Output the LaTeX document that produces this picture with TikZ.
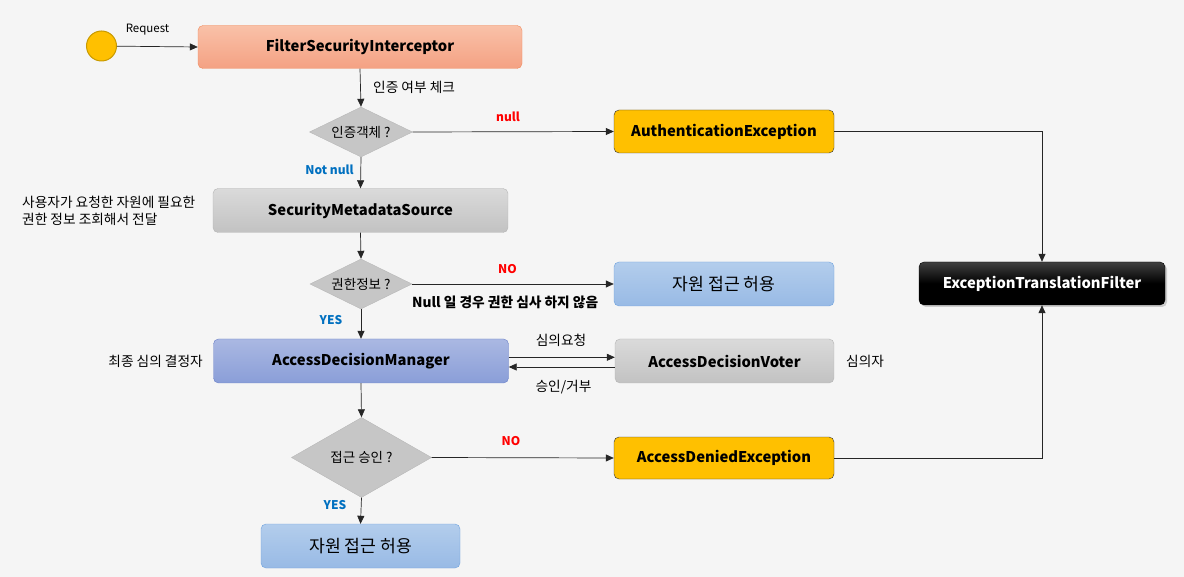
\documentclass[tikz,border=0pt]{standalone}
\usepackage{fontspec}
\setmainfont{Noto Sans CJK KR}
\usetikzlibrary{arrows.meta,shapes.geometric,shadows}
\definecolor{bg}{HTML}{F5F5F5}
\definecolor{gold}{HTML}{FFC000}
\definecolor{goldline}{HTML}{C89A00}
\definecolor{salmonT}{HTML}{F9C1A8}
\definecolor{salmonB}{HTML}{F4A183}
\definecolor{salmonL}{HTML}{F08A5C}
\definecolor{grayT}{HTML}{DADADA}
\definecolor{grayB}{HTML}{C2C2C2}
\definecolor{grayL}{HTML}{B5B5B5}
\definecolor{blueT}{HTML}{B3CDEC}
\definecolor{blueB}{HTML}{98BAE5}
\definecolor{blueL}{HTML}{6FA2DE}
\definecolor{admT}{HTML}{AAB8E2}
\definecolor{admB}{HTML}{8A9ED8}
\definecolor{admL}{HTML}{6A80C8}
\definecolor{diaF}{HTML}{C6C6C6}
\definecolor{diaL}{HTML}{B8B8B8}
\definecolor{noRed}{HTML}{FF0000}
\definecolor{yesBlue}{HTML}{0070C0}
\begin{document}
\begin{tikzpicture}[x=1pt,y=-1pt,
  box/.style={rounded corners=5pt, inner sep=0pt, font=\bfseries\fontsize{14.8}{17}\selectfont},
  salmonbox/.style={box, top color=salmonT, bottom color=salmonB, draw=salmonL},
  graybox/.style={box, top color=grayT, bottom color=grayB, draw=grayL},
  bluebox/.style={box, top color=blueT, bottom color=blueB, draw=blueL, font=\fontsize{17.2}{19}\selectfont},
  admbox/.style={box, top color=admT, bottom color=admB, draw=admL},
  goldbox/.style={box, fill=gold, draw=black!80},
  blackbox/.style={box, top color=black!75, bottom color=black, middle color=black, draw=black, text=white, drop shadow={opacity=0.35, shadow xshift=2pt, shadow yshift=-2pt}},
  dia/.style={diamond, fill=diaF, draw=diaL, inner sep=0pt, aspect=2, font=\fontsize{13.5}{15}\selectfont},
  arr/.style={-{Triangle[length=8pt,width=7pt]}, line width=0.7pt, black!85},
  lbl/.style={font=\fontsize{13.7}{16}\selectfont, inner sep=0pt},
  rlbl/.style={font=\bfseries\fontsize{12}{14}\selectfont, text=noRed, inner sep=0pt},
  blbl/.style={font=\bfseries\fontsize{12}{14}\selectfont, text=yesBlue, inner sep=0pt}
]
\fill[bg] (0,0) rectangle (1184,577);

% start
\node[circle, fill=gold, draw=goldline, line width=1pt, minimum size=30pt, inner sep=0pt] (start) at (101.5,46) {};
\node[lbl, font=\fontsize{11.5}{13}\selectfont] (req) at (147.5,30) {Request};

% boxes
\node[salmonbox, minimum width=324pt, minimum height=43pt] (fsi) at (360,47) {FilterSecurityInterceptor};
\node[dia, minimum width=103pt, minimum height=50pt] (d1) at (361,132) {인증객체 ?};
\node[goldbox, minimum width=220pt, minimum height=43pt] (authex) at (724,131.5) {AuthenticationException};
\node[graybox, minimum width=295pt, minimum height=44pt] (sms) at (360.5,210.5) {SecurityMetadataSource};
\node[dia, minimum width=102pt, minimum height=50pt] (d2) at (361,284) {권한정보 ?};
\node[bluebox, minimum width=220pt, minimum height=44pt] (allow1) at (724,284) {자원 접근 허용};
\node[admbox, minimum width=295pt, minimum height=44pt] (adm) at (361,361) {AccessDecisionManager};
\node[graybox, minimum width=219pt, minimum height=44pt] (adv) at (724.5,361) {AccessDecisionVoter};
\node[dia, minimum width=140pt, minimum height=80pt] (d3) at (361.5,457.5) {접근 승인 ?};
\node[goldbox, minimum width=220pt, minimum height=42pt] (adex) at (724,458) {AccessDeniedException};
\node[bluebox, minimum width=199pt, minimum height=44pt] (allow2) at (360.5,546) {자원 접근 허용};
\node[blackbox, minimum width=246pt, minimum height=43pt] (etf) at (1042,283.5) {ExceptionTranslationFilter};

% side labels
\node[lbl, anchor=west, align=left, font=\fontsize{13.7}{17}\selectfont] (smsnote) at (22,210.5) {사용자가 요청한 자원에 필요한\\권한 정보 조회해서 전달};
\node[lbl, anchor=east] (admnote) at (203,361) {최종 심의 결정자};
\node[lbl, anchor=west] (advnote) at (846,361) {심의자};

% connector labels
\node[lbl, anchor=west] (chk) at (373,87) {인증 여부 체크};
\node[rlbl] (null) at (508,117) {null};
\node[blbl] (nn) at (329.5,170) {Not null};
\node[rlbl] (no1) at (507.5,269) {NO};
\node[lbl, anchor=west, font=\bfseries\fontsize{13.7}{16}\selectfont] (nullnote) at (412,302) {Null 일 경우 권한 심사 하지 않음};
\node[blbl] (yes1) at (331,320) {YES};
\node[lbl] (req2) at (561,340) {심의요청};
\node[lbl] (resp) at (563.5,387) {승인/거부};
\node[rlbl] (no2) at (511,441) {NO};
\node[blbl] (yes2) at (335,505) {YES};

% connectors
\draw[arr] (start) -- (fsi.west);
\draw[arr] (fsi.south) -- (d1.north);
\draw[arr] (d1.east) -- (authex.west);
\draw[arr] (d1.south) -- (sms.north);
\draw[arr] (sms.south) -- (d2.north);
\draw[arr] (d2.east) -- (allow1.west);
\draw[arr] (d2.south) -- (adm.north);
\draw[arr] ([yshift=3.7pt]adm.east) -- ([yshift=3.7pt]adv.west);
\draw[arr] ([yshift=-6pt]adv.west) -- ([yshift=-6pt]adm.east);
\draw[arr] (adm.south) -- (d3.north);
\draw[arr] (d3.east) -- (adex.west);
\draw[arr] (d3.south) -- (allow2.north);
\draw[arr] (authex.east) -| (etf.north);
\draw[arr] (adex.east) -| (etf.south);
\end{tikzpicture}
\end{document}
